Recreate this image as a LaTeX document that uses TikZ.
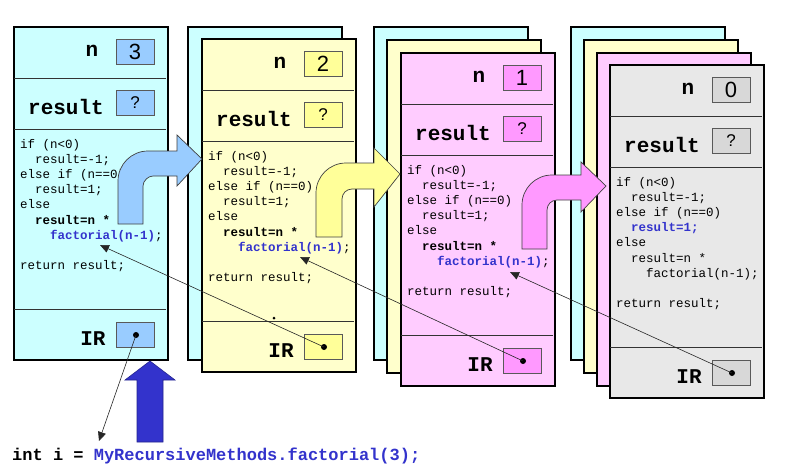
\documentclass[tikz,border=0pt]{standalone}
\usepackage{fontspec}
\usetikzlibrary{arrows.meta}
\newfontfamily\monof{Liberation Mono}
\newfontfamily\sansf{Liberation Sans}
\definecolor{cyanfr}{HTML}{CCFFFF}
\definecolor{cyanbx}{HTML}{99CCFF}
\definecolor{yelfr}{HTML}{FFFFCC}
\definecolor{yelbx}{HTML}{FFFF99}
\definecolor{pinkfr}{HTML}{FFCCFF}
\definecolor{pinkbx}{HTML}{FF99FF}
\definecolor{grayfr}{HTML}{E8E8E8}
\definecolor{graybx}{HTML}{D8D8D8}
\definecolor{codeblue}{HTML}{3333CC}
\definecolor{bigblue}{HTML}{3333CC}
\tikzset{
 frm/.style={draw=black, line width=1.5pt, minimum width=154pt, minimum height=333pt, inner sep=0pt, anchor=north west},
 div/.style={draw=black!80, line width=0.9pt},
 bx/.style={draw=black!65, line width=0.8pt, minimum width=38pt, minimum height=25pt, inner sep=0pt},
 lbl/.style={inner sep=0pt, anchor=base, font=\monof\bfseries\fontsize{21}{21}\selectfont},
 code/.style={inner sep=0pt, anchor=base west, font=\monof\fontsize{12.5}{15}\selectfont},
 dig/.style={font=\sansf\fontsize{22}{22}\selectfont},
 qm/.style={font=\sansf\fontsize{17}{17}\selectfont},
 dotn/.style={circle, fill=black, inner sep=0pt, minimum size=6pt},
 ptr/.style={draw=black!85, line width=0.6pt, -{Triangle[length=9pt,width=8pt]}},
 bent/.style={draw=black!75, line width=0.7pt},
}
\newcommand\backframe[4]{\node[frm, fill=#4] (#1) at (#2,#3) {};}
\newcommand\stdcode[1]{%
 \node[code] (f#1a) at (7,122) {if (n<0)};
 \node[code] (f#1b) at (22,137.2) {result=-1;};
 \node[code] (f#1c) at (7,152.4) {else if (n==0)};
 \node[code] (f#1d) at (22,167.6) {result=1;};
 \node[code] (f#1e) at (7,182.8) {else};
 \node[code] (f#1f) at (22,198) {\bfseries result=n *};
 \node[code] (f#1g) at (37,213.2) {\textcolor{codeblue}{\bfseries factorial(n-1)};};
 \node[code] (f#1h) at (7,243.6) {return result;};
}
\newcommand\basecode[1]{%
 \node[code] (f#1a) at (7,122) {if (n<0)};
 \node[code] (f#1b) at (22,137.2) {result=-1;};
 \node[code] (f#1c) at (7,152.4) {else if (n==0)};
 \node[code] (f#1d) at (22,167.6) {\textcolor{codeblue}{\bfseries result=1;}};
 \node[code] (f#1e) at (7,182.8) {else};
 \node[code] (f#1f) at (22,198) {result=n *};
 \node[code] (f#1g) at (37,213.2) {factorial(n-1);};
 \node[code] (f#1h) at (7,243.6) {return result;};
}
\newcommand\frontframe[7]{%
 \begin{scope}[shift={(#2,#3)}]
  \node[frm, fill=#4] (f#1) at (0,0) {};
  \draw[div] (0.8,52) -- (153.2,52);
  \draw[div] (0.8,103) -- (153.2,103);
  \draw[div] (0.8,283) -- (153.2,283);
  \node[lbl] (n#1) at (79,30) {n};
  \node[lbl] (r#1) at (53,88) {result};
  \node[lbl] (i#1) at (80,319) {IR};
  \node[bx, fill=#5, dig] (nb#1) at (122,25.5) {#6};
  \node[bx, fill=#5, qm] (rb#1) at (122,77) {?};
  \node[bx, fill=#5] (ib#1) at (122,309) {};
  \node[dotn] (d#1) at (123,309) {};
  #7{#1}
 \end{scope}}
\begin{document}
\begin{tikzpicture}[x=1pt,y=-1pt]
\useasboundingbox (0,0) rectangle (787,471);
\fill[white] (0,0) rectangle (787,471);
% frame 1
\frontframe{1}{13}{26}{cyanfr}{cyanbx}{3}{\stdcode}
% frame 2 group
\backframe{b2c}{187}{26}{cyanfr}
\frontframe{2}{201}{38}{yelfr}{yelbx}{2}{\stdcode}
% frame 3 group
\backframe{b3c}{373}{26}{cyanfr}
\backframe{b3y}{386}{39}{yelfr}
\frontframe{3}{400}{52}{pinkfr}{pinkbx}{1}{\stdcode}
% frame 4 group
\backframe{b4c}{570}{26}{cyanfr}
\backframe{b4y}{583}{39}{yelfr}
\backframe{b4p}{596}{52}{pinkfr}
\frontframe{4}{609}{64}{grayfr}{graybx}{0}{\basecode}
% bent call arrows
\draw[bent, fill=cyanbx] (143,224) -- (118,224) -- (118,181)
  .. controls (118,164.4) and (131.4,151) .. (148,151)
  -- (177,151) -- (177,135) -- (202,159) -- (177,186) -- (177,176)
  -- (153,176) .. controls (148.5,176) and (143,180.5) .. (143,186) -- cycle;
\draw[bent, fill=yelbx] (342,237) -- (316,237) -- (316,193)
  .. controls (316,176.4) and (329.4,163) .. (346,163)
  -- (374,163) -- (374,148) -- (400,174) -- (374,207) -- (374,189)
  -- (352,189) .. controls (346.5,189) and (342,193.5) .. (342,199) -- cycle;
\draw[bent, fill=pinkbx] (547,249) -- (522,249) -- (522,205)
  .. controls (522,188.4) and (535.4,175) .. (552,175)
  -- (581,175) -- (581,162) -- (606,186) -- (581,212) -- (581,200)
  -- (557,200) .. controls (551.5,200) and (547,204.5) .. (547,210) -- cycle;
% return pointers
\coordinate (t1) at (100,245);
\coordinate (t2) at (300,257);
\coordinate (t3) at (510,272);
\coordinate (t0) at (99,441);
\node[circle, fill=black, inner sep=0pt, minimum size=3pt] (speck) at (274,318) {};
\draw[ptr] (d2.center) -- (t1);
\draw[ptr] (d3.center) -- (t2);
\draw[ptr] (d4.center) -- (t3);
\draw[ptr] (d1.center) -- (t0);
% big up arrow
\draw[draw=bigblue!70!black, line width=0.6pt, fill=bigblue] (137,442) -- (137,380) -- (125,380) -- (150,361)
  -- (175,380) -- (163,380) -- (163,442) -- cycle;
% call statement
\node[inner sep=0pt, anchor=base west, font=\monof\bfseries\fontsize{17}{17}\selectfont] (call) at (12,460)
  {int i = \textcolor{codeblue}{MyRecursiveMethods.factorial(3);}};
\end{tikzpicture}
\end{document}
